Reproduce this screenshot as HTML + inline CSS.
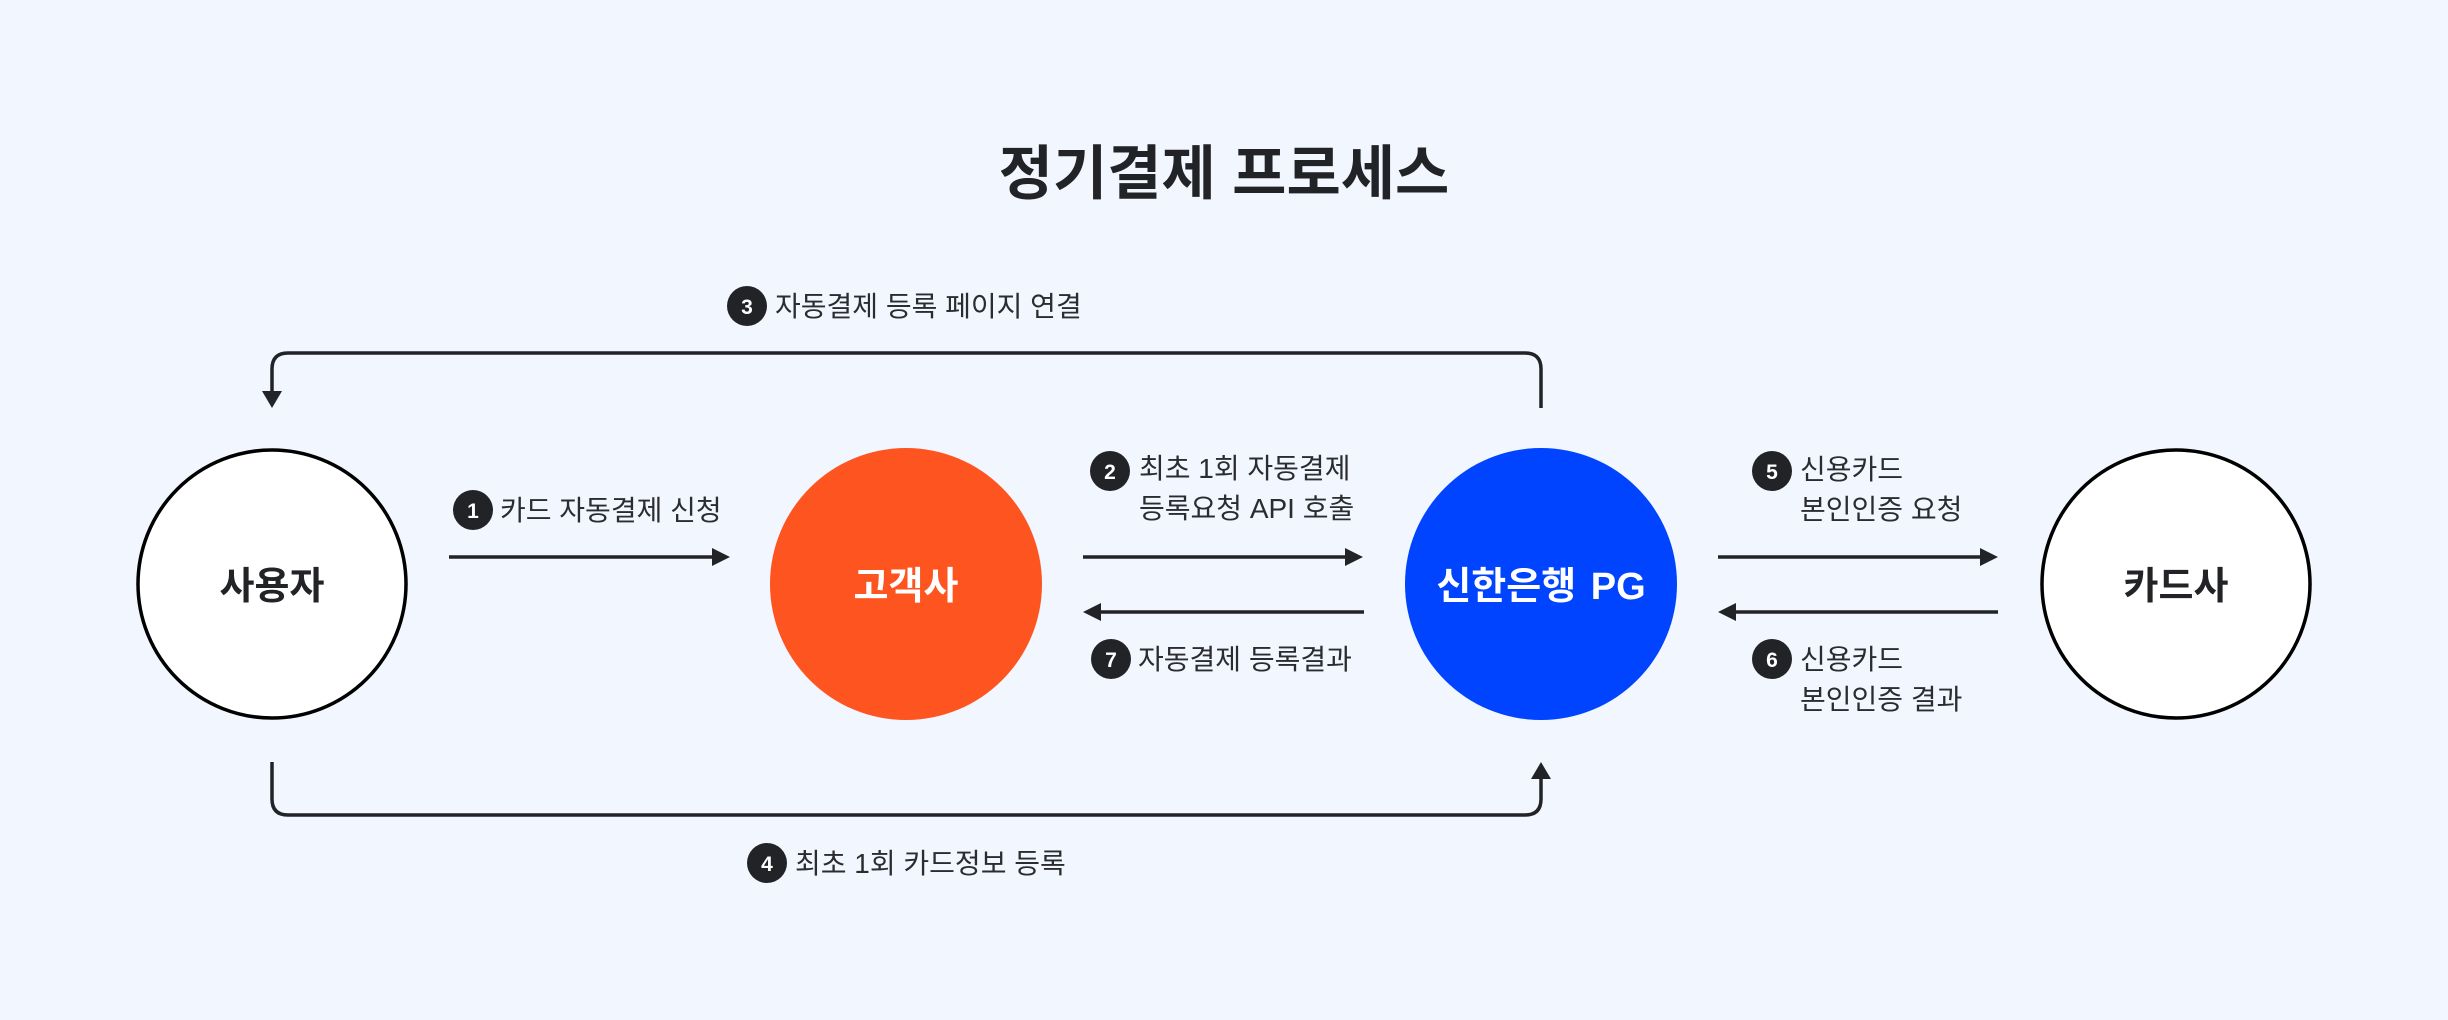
<!DOCTYPE html>
<html>
<head>
<meta charset="utf-8">
<style>
  html, body { margin: 0; padding: 0; background: #f2f6fe; }
  body { width: 2448px; height: 1020px; overflow: hidden; }
  svg { display: block; }
  text { font-family: "Liberation Sans", "Noto Sans CJK KR", sans-serif; }
  .lbl { font-size: 28px; fill: #2b2c30; }
  .num { font-size: 21px; font-weight: 700; fill: #ffffff; text-anchor: middle; }
  .node { font-size: 38px; font-weight: 700; text-anchor: middle; }
</style>
</head>
<body>
<svg width="2448" height="1020" viewBox="0 0 2448 1020" xmlns="http://www.w3.org/2000/svg">
  <rect x="0" y="0" width="2448" height="1020" fill="#f2f6fe"/>

  <!-- Title -->
  <text x="1224" y="194" text-anchor="middle" style="font-size:59px;font-weight:700;" fill="#222327">정기결제 프로세스</text>

  <!-- Top connector (3) -->
  <path d="M1541 408 L1541 369 Q1541 353 1525 353 L288 353 Q272 353 272 369 L272 393" fill="none" stroke="#222327" stroke-width="3.5"/>
  <polygon points="262,391 282,391 272,408" fill="#222327"/>

  <!-- Bottom connector (4) -->
  <path d="M272 762 L272 799 Q272 815 288 815 L1525 815 Q1541 815 1541 799 L1541 776" fill="none" stroke="#222327" stroke-width="3.5"/>
  <polygon points="1531,779 1551,779 1541,762" fill="#222327"/>

  <!-- Horizontal arrows -->
  <line x1="449" y1="557" x2="714" y2="557" stroke="#222327" stroke-width="3.5"/>
  <polygon points="712,548 712,566 730,557" fill="#222327"/>

  <line x1="1083" y1="557" x2="1347" y2="557" stroke="#222327" stroke-width="3.5"/>
  <polygon points="1345,548 1345,566 1363,557" fill="#222327"/>

  <line x1="1097" y1="612" x2="1364" y2="612" stroke="#222327" stroke-width="3.5"/>
  <polygon points="1101,603 1101,621 1083,612" fill="#222327"/>

  <line x1="1718" y1="557" x2="1982" y2="557" stroke="#222327" stroke-width="3.5"/>
  <polygon points="1980,548 1980,566 1998,557" fill="#222327"/>

  <line x1="1732" y1="612" x2="1998" y2="612" stroke="#222327" stroke-width="3.5"/>
  <polygon points="1736,603 1736,621 1718,612" fill="#222327"/>

  <!-- Nodes -->
  <circle cx="272" cy="584" r="134" fill="#ffffff" stroke="#000000" stroke-width="3.5"/>
  <text x="272" y="599" class="node" fill="#222327">사용자</text>

  <circle cx="906" cy="584" r="136" fill="#fe5420"/>
  <text x="906" y="599" class="node" fill="#ffffff">고객사</text>

  <circle cx="1541" cy="584" r="136" fill="#0044ff"/>
  <text x="1541" y="599" class="node" fill="#ffffff" style="word-spacing:4px;">신한은행 PG</text>

  <circle cx="2176" cy="584" r="134" fill="#ffffff" stroke="#000000" stroke-width="3.5"/>
  <text x="2176" y="599" class="node" fill="#222327">카드사</text>

  <!-- Label 3 -->
  <circle cx="747" cy="306" r="20" fill="#222327"/>
  <text x="747" y="314" class="num">3</text>
  <text x="775" y="316" class="lbl">자동결제 등록 페이지 연결</text>

  <!-- Label 1 -->
  <circle cx="473" cy="510" r="20" fill="#222327"/>
  <text x="473" y="518" class="num">1</text>
  <text x="500" y="520" class="lbl">카드 자동결제 신청</text>

  <!-- Label 2 -->
  <circle cx="1110" cy="471" r="20" fill="#222327"/>
  <text x="1110" y="479" class="num">2</text>
  <text x="1139" y="478" class="lbl">최초 1회 자동결제</text>
  <text x="1139" y="518" class="lbl">등록요청 API 호출</text>

  <!-- Label 7 -->
  <circle cx="1111" cy="659" r="20" fill="#222327"/>
  <text x="1111" y="667" class="num">7</text>
  <text x="1138" y="669" class="lbl">자동결제 등록결과</text>

  <!-- Label 5 -->
  <circle cx="1772" cy="471" r="20" fill="#222327"/>
  <text x="1772" y="479" class="num">5</text>
  <text x="1800" y="479" class="lbl">신용카드</text>
  <text x="1800" y="519" class="lbl">본인인증 요청</text>

  <!-- Label 6 -->
  <circle cx="1772" cy="659" r="20" fill="#222327"/>
  <text x="1772" y="667" class="num">6</text>
  <text x="1800" y="669" class="lbl">신용카드</text>
  <text x="1800" y="709" class="lbl">본인인증 결과</text>

  <!-- Label 4 -->
  <circle cx="767" cy="863" r="20" fill="#222327"/>
  <text x="767" y="871" class="num">4</text>
  <text x="795" y="873" class="lbl">최초 1회 카드정보 등록</text>
</svg>
</body>
</html>
